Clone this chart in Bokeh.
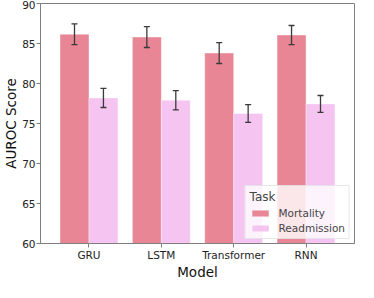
from bokeh.plotting import figure
from bokeh.models import ColumnDataSource, FactorRange, Whisker, TeeHead, Legend, LegendItem
from bokeh.transform import dodge
from bokeh.embed import file_html
from bokeh.resources import INLINE

models = ["GRU", "LSTM", "Transformer", "RNN"]
mortality = [86.15, 85.8, 83.8, 86.05]
mortality_err = [1.3, 1.3, 1.3, 1.2]
readmission = [78.2, 77.9, 76.25, 77.45]
readmission_err = [1.2, 1.2, 1.1, 1.05]
y_ticks = [60, 65, 70, 75, 80, 85, 90]

FONT = "DejaVu Sans"
C_MORT = "#e88696"
C_READ = "#f5c4f0"

src = ColumnDataSource(dict(
    model=models,
    mort=mortality,
    mort_lo=[v - e for v, e in zip(mortality, mortality_err)],
    mort_hi=[v + e for v, e in zip(mortality, mortality_err)],
    read=readmission,
    read_lo=[v - e for v, e in zip(readmission, readmission_err)],
    read_hi=[v + e for v, e in zip(readmission, readmission_err)],
))

p = figure(width=358, height=282, output_backend="svg", toolbar_location=None,
           x_range=FactorRange(*models, range_padding=0.17, range_padding_units="absolute"),
           y_range=(60, 90), min_border_left=0, min_border_right=4,
           min_border_top=3, min_border_bottom=0)

r1 = p.vbar(x=dodge("model", -0.2, range=p.x_range), top="mort", bottom=60, width=0.4,
            source=src, fill_color=C_MORT, line_color="white", line_alpha=0.35, line_width=1)
r2 = p.vbar(x=dodge("model", 0.2, range=p.x_range), top="read", bottom=60, width=0.4,
            source=src, fill_color=C_READ, line_color="white", line_alpha=0.35, line_width=1)

for off, lo, hi in [(-0.2, "mort_lo", "mort_hi"), (0.2, "read_lo", "read_hi")]:
    w = Whisker(base=dodge("model", off, range=p.x_range), lower=lo, upper=hi, source=src,
                line_color="#3a3a3a", line_width=1.3, level="annotation",
                upper_head=TeeHead(size=6, line_color="#3a3a3a", line_width=1.3),
                lower_head=TeeHead(size=6, line_color="#3a3a3a", line_width=1.3))
    p.add_layout(w)

p.xgrid.visible = False
p.ygrid.visible = False
p.outline_line_color = "#808080"
p.outline_line_width = 1

p.yaxis.ticker = y_ticks
for ax in (p.xaxis[0], p.yaxis[0]):
    ax.axis_line_color = "#808080"
    ax.major_tick_line_color = "#808080"
    ax.major_tick_out = 4
    ax.major_tick_in = 0
    ax.minor_tick_line_color = None
    ax.major_label_text_font = FONT
    ax.major_label_text_font_size = "10.5px"
    ax.major_label_text_color = "#222222"
    ax.major_label_standoff = 1
    ax.axis_label_text_font = FONT
    ax.axis_label_text_font_size = "13.5px"
    ax.axis_label_text_font_style = "normal"
    ax.axis_label_text_color = "#111111"
    ax.axis_label_standoff = 0
p.xaxis.axis_label = "Model"
p.yaxis.axis_label = "AUROC Score"

legend = Legend(items=[LegendItem(label="Mortality", renderers=[r1]),
                       LegendItem(label="Readmission", renderers=[r2])],
                title="Task", location="bottom_right",
                title_text_font=FONT, title_text_font_size="12px", title_text_font_style="normal",
                label_text_font=FONT, label_text_font_size="10.5px",
                glyph_width=21, glyph_height=8, label_standoff=8, spacing=3,
                label_height=12, padding=4, margin=4, title_standoff=3,
                background_fill_alpha=0.8, border_line_color="#d0d0d0")
p.add_layout(legend)

open("out.html", "w").write(file_html(p, INLINE))
